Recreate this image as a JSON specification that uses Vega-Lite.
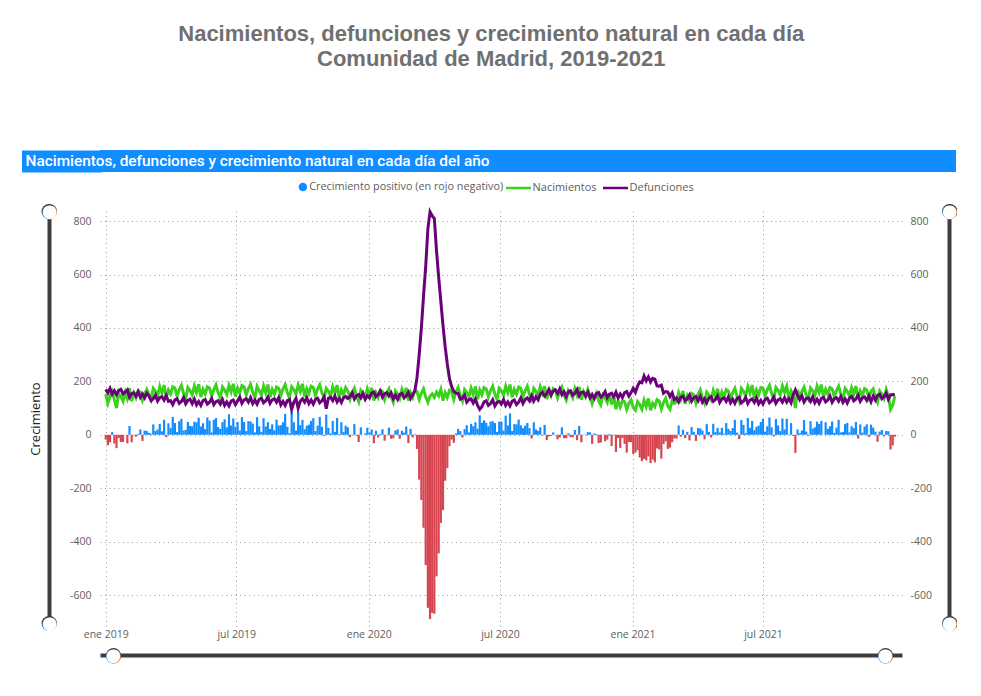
{
"$schema": "https://vega.github.io/schema/vega-lite/v6.json",
"background": "white",
"padding": {"left": 25, "top": 23, "right": 0, "bottom": 0},
"title": {"text": ["Nacimientos, defunciones y crecimiento natural en cada día", "Comunidad de Madrid, 2019-2021"], "font": "Liberation Sans", "fontSize": 22, "fontWeight": "bold", "color": "#707070", "lineHeight": 25, "anchor": "middle", "offset": 79},
"config": {"view": {"stroke": null}, "axis": {"labelFont": "Open Sans", "labelFontSize": 10.5, "labelColor": "#605E5C"}},
"spacing": 30,
"vconcat": [
{"width": 856, "height": 22, "view": {"fill": "#118DFF", "stroke": null},
 "data": {"values": [{"t": "Nacimientos, defunciones y crecimiento natural en cada día del año", "k": "h"}]},
 "mark": {"type": "text", "align": "left", "baseline": "middle", "font": "Roboto", "fontSize": 15.4, "fontWeight": 500, "color": "white"},
 "encoding": {"text": {"field": "t"}, "x": {"value": -74.5},
   "y": {"field": "k", "type": "nominal", "axis": {"orient": "left", "offset": 38.5, "domain": true, "domainWidth": 80, "domainColor": "#118DFF", "domainCap": "butt", "labels": false, "ticks": false, "grid": false, "title": null}}}},
{"width": 802, "height": 415, "view": {"stroke": null},
 "data": {"values": [
{"d":"2019-01-01","n":152,"m":170,"c":-18},{"d":"2019-01-04","n":118,"m":157,"c":-39},{"d":"2019-01-07","n":146,"m":174,"c":-28},{"d":"2019-01-10","n":162,"m":152,"c":10},{"d":"2019-01-13","n":132,"m":165,"c":-33},{"d":"2019-01-16","n":100,"m":150,"c":-50},{"d":"2019-01-19","n":154,"m":166,"c":-12},{"d":"2019-01-22","n":143,"m":170,"c":-27},{"d":"2019-01-25","n":126,"m":153,"c":-27},{"d":"2019-01-28","n":160,"m":160,"c":0},{"d":"2019-01-31","n":136,"m":168,"c":-32},
{"d":"2019-02-03","n":174,"m":141,"c":33},{"d":"2019-02-06","n":126,"m":154,"c":-28},{"d":"2019-02-09","n":156,"m":158,"c":-2},{"d":"2019-02-12","n":138,"m":145,"c":-7},{"d":"2019-02-15","n":165,"m":162,"c":3},{"d":"2019-02-18","n":160,"m":140,"c":20},{"d":"2019-02-21","n":130,"m":153,"c":-23},{"d":"2019-02-24","n":154,"m":138,"c":16},{"d":"2019-02-27","n":170,"m":156,"c":14},
{"d":"2019-03-02","n":152,"m":145,"c":7},{"d":"2019-03-05","n":132,"m":128,"c":4},{"d":"2019-03-08","n":174,"m":135,"c":39},{"d":"2019-03-11","n":163,"m":149,"c":14},{"d":"2019-03-14","n":146,"m":126,"c":20},{"d":"2019-03-17","n":180,"m":139,"c":41},{"d":"2019-03-20","n":156,"m":143,"c":13},{"d":"2019-03-23","n":186,"m":130,"c":56},{"d":"2019-03-26","n":138,"m":147,"c":-9},{"d":"2019-03-29","n":168,"m":125,"c":43},
{"d":"2019-04-01","n":153,"m":128,"c":25},{"d":"2019-04-04","n":180,"m":113,"c":67},{"d":"2019-04-07","n":175,"m":131,"c":44},{"d":"2019-04-10","n":145,"m":135,"c":10},{"d":"2019-04-13","n":169,"m":118,"c":51},{"d":"2019-04-16","n":185,"m":125,"c":60},{"d":"2019-04-19","n":155,"m":139,"c":16},{"d":"2019-04-22","n":135,"m":116,"c":19},{"d":"2019-04-25","n":177,"m":129,"c":48},{"d":"2019-04-28","n":166,"m":133,"c":33},
{"d":"2019-05-01","n":149,"m":117,"c":32},{"d":"2019-05-04","n":183,"m":134,"c":49},{"d":"2019-05-07","n":159,"m":112,"c":47},{"d":"2019-05-10","n":189,"m":125,"c":64},{"d":"2019-05-13","n":141,"m":110,"c":31},{"d":"2019-05-16","n":171,"m":128,"c":43},{"d":"2019-05-19","n":153,"m":132,"c":21},{"d":"2019-05-22","n":180,"m":115,"c":65},{"d":"2019-05-25","n":175,"m":122,"c":53},{"d":"2019-05-28","n":145,"m":136,"c":9},{"d":"2019-05-31","n":169,"m":113,"c":56},
{"d":"2019-06-03","n":187,"m":124,"c":63},{"d":"2019-06-06","n":157,"m":128,"c":29},{"d":"2019-06-09","n":137,"m":115,"c":22},{"d":"2019-06-12","n":179,"m":132,"c":47},{"d":"2019-06-15","n":168,"m":110,"c":58},{"d":"2019-06-18","n":151,"m":123,"c":28},{"d":"2019-06-21","n":185,"m":108,"c":77},{"d":"2019-06-24","n":161,"m":126,"c":35},{"d":"2019-06-27","n":191,"m":130,"c":61},{"d":"2019-06-30","n":143,"m":113,"c":30},
{"d":"2019-07-03","n":175,"m":127,"c":48},{"d":"2019-07-06","n":157,"m":141,"c":16},{"d":"2019-07-09","n":184,"m":118,"c":66},{"d":"2019-07-12","n":179,"m":131,"c":48},{"d":"2019-07-15","n":149,"m":135,"c":14},{"d":"2019-07-18","n":173,"m":122,"c":51},{"d":"2019-07-21","n":189,"m":139,"c":50},{"d":"2019-07-24","n":159,"m":117,"c":42},{"d":"2019-07-27","n":139,"m":130,"c":9},{"d":"2019-07-30","n":181,"m":115,"c":66},
{"d":"2019-08-02","n":165,"m":133,"c":32},{"d":"2019-08-05","n":148,"m":137,"c":11},{"d":"2019-08-08","n":182,"m":120,"c":62},{"d":"2019-08-11","n":158,"m":127,"c":31},{"d":"2019-08-14","n":188,"m":141,"c":47},{"d":"2019-08-17","n":140,"m":118,"c":22},{"d":"2019-08-20","n":170,"m":131,"c":39},{"d":"2019-08-23","n":152,"m":135,"c":17},{"d":"2019-08-26","n":179,"m":122,"c":57},{"d":"2019-08-29","n":174,"m":139,"c":35},
{"d":"2019-09-01","n":148,"m":112,"c":36},{"d":"2019-09-04","n":172,"m":125,"c":47},{"d":"2019-09-07","n":188,"m":110,"c":78},{"d":"2019-09-10","n":158,"m":128,"c":30},{"d":"2019-09-13","n":138,"m":132,"c":6},{"d":"2019-09-16","n":180,"m":95,"c":85},{"d":"2019-09-19","n":169,"m":122,"c":47},{"d":"2019-09-22","n":152,"m":136,"c":16},{"d":"2019-09-25","n":186,"m":100,"c":86},{"d":"2019-09-28","n":162,"m":126,"c":36},
{"d":"2019-10-01","n":191,"m":135,"c":56},{"d":"2019-10-04","n":143,"m":122,"c":21},{"d":"2019-10-07","n":173,"m":139,"c":34},{"d":"2019-10-10","n":155,"m":117,"c":38},{"d":"2019-10-13","n":182,"m":130,"c":52},{"d":"2019-10-16","n":177,"m":115,"c":62},{"d":"2019-10-19","n":147,"m":133,"c":14},{"d":"2019-10-22","n":171,"m":137,"c":34},{"d":"2019-10-25","n":187,"m":120,"c":67},{"d":"2019-10-28","n":157,"m":127,"c":30},{"d":"2019-10-31","n":137,"m":141,"c":-4},
{"d":"2019-11-03","n":174,"m":98,"c":76},{"d":"2019-11-06","n":163,"m":137,"c":26},{"d":"2019-11-09","n":146,"m":141,"c":5},{"d":"2019-11-12","n":180,"m":128,"c":52},{"d":"2019-11-15","n":156,"m":145,"c":11},{"d":"2019-11-18","n":186,"m":123,"c":63},{"d":"2019-11-21","n":138,"m":136,"c":2},{"d":"2019-11-24","n":168,"m":121,"c":47},{"d":"2019-11-27","n":150,"m":139,"c":11},{"d":"2019-11-30","n":177,"m":143,"c":34},
{"d":"2019-12-03","n":164,"m":136,"c":28},{"d":"2019-12-06","n":134,"m":143,"c":-9},{"d":"2019-12-09","n":158,"m":157,"c":1},{"d":"2019-12-12","n":174,"m":134,"c":40},{"d":"2019-12-15","n":144,"m":147,"c":-3},{"d":"2019-12-18","n":124,"m":151,"c":-27},{"d":"2019-12-21","n":166,"m":138,"c":28},{"d":"2019-12-24","n":155,"m":155,"c":0},{"d":"2019-12-27","n":138,"m":133,"c":5},{"d":"2019-12-30","n":172,"m":146,"c":26},
{"d":"2020-01-02","n":146,"m":138,"c":8},{"d":"2020-01-05","n":176,"m":156,"c":20},{"d":"2020-01-08","n":128,"m":160,"c":-32},{"d":"2020-01-11","n":158,"m":143,"c":15},{"d":"2020-01-14","n":140,"m":150,"c":-10},{"d":"2020-01-17","n":167,"m":164,"c":3},{"d":"2020-01-20","n":162,"m":141,"c":21},{"d":"2020-01-23","n":132,"m":154,"c":-22},{"d":"2020-01-26","n":156,"m":158,"c":-2},{"d":"2020-01-29","n":172,"m":145,"c":27},
{"d":"2020-02-01","n":142,"m":157,"c":-15},{"d":"2020-02-04","n":122,"m":135,"c":-13},{"d":"2020-02-07","n":164,"m":148,"c":16},{"d":"2020-02-10","n":153,"m":133,"c":20},{"d":"2020-02-13","n":136,"m":151,"c":-15},{"d":"2020-02-16","n":170,"m":155,"c":15},{"d":"2020-02-19","n":146,"m":138,"c":8},{"d":"2020-02-22","n":176,"m":145,"c":31},{"d":"2020-02-25","n":128,"m":159,"c":-31},{"d":"2020-02-28","n":158,"m":136,"c":22},
{"d":"2020-03-02","n":140,"m":150,"c":-10},{"d":"2020-03-05","n":167,"m":165,"c":2},{"d":"2020-03-08","n":162,"m":215,"c":-53},{"d":"2020-03-11","n":132,"m":300,"c":-168},{"d":"2020-03-14","n":156,"m":400,"c":-244},{"d":"2020-03-17","n":172,"m":520,"c":-348},{"d":"2020-03-20","n":142,"m":630,"c":-488},{"d":"2020-03-23","n":122,"m":770,"c":-648},{"d":"2020-03-26","n":145,"m":835,"c":-690},{"d":"2020-03-29","n":153,"m":820,"c":-667},
{"d":"2020-04-01","n":140,"m":810,"c":-670},{"d":"2020-04-04","n":160,"m":690,"c":-530},{"d":"2020-04-07","n":146,"m":590,"c":-444},{"d":"2020-04-10","n":170,"m":500,"c":-330},{"d":"2020-04-13","n":128,"m":410,"c":-282},{"d":"2020-04-16","n":158,"m":330,"c":-172},{"d":"2020-04-19","n":140,"m":265,"c":-125},{"d":"2020-04-22","n":167,"m":210,"c":-43},{"d":"2020-04-25","n":162,"m":180,"c":-18},{"d":"2020-04-28","n":132,"m":162,"c":-30},
{"d":"2020-05-01","n":161,"m":156,"c":5},{"d":"2020-05-04","n":177,"m":155,"c":22},{"d":"2020-05-07","n":147,"m":133,"c":14},{"d":"2020-05-10","n":127,"m":137,"c":-10},{"d":"2020-05-13","n":169,"m":148,"c":21},{"d":"2020-05-16","n":158,"m":122,"c":36},{"d":"2020-05-19","n":141,"m":132,"c":9},{"d":"2020-05-22","n":175,"m":134,"c":41},{"d":"2020-05-25","n":151,"m":119,"c":32},{"d":"2020-05-28","n":181,"m":134,"c":47},{"d":"2020-05-31","n":133,"m":110,"c":23},
{"d":"2020-06-03","n":168,"m":95,"c":73},{"d":"2020-06-06","n":150,"m":105,"c":45},{"d":"2020-06-09","n":177,"m":123,"c":54},{"d":"2020-06-12","n":172,"m":127,"c":45},{"d":"2020-06-15","n":142,"m":110,"c":32},{"d":"2020-06-18","n":166,"m":117,"c":49},{"d":"2020-06-21","n":182,"m":131,"c":51},{"d":"2020-06-24","n":152,"m":108,"c":44},{"d":"2020-06-27","n":132,"m":121,"c":11},{"d":"2020-06-30","n":174,"m":125,"c":49},
{"d":"2020-07-03","n":165,"m":115,"c":50},{"d":"2020-07-06","n":148,"m":132,"c":16},{"d":"2020-07-09","n":182,"m":110,"c":72},{"d":"2020-07-12","n":158,"m":123,"c":35},{"d":"2020-07-15","n":188,"m":108,"c":80},{"d":"2020-07-18","n":140,"m":126,"c":14},{"d":"2020-07-21","n":170,"m":130,"c":40},{"d":"2020-07-24","n":152,"m":113,"c":39},{"d":"2020-07-27","n":179,"m":122,"c":57},{"d":"2020-07-30","n":174,"m":138,"c":36},
{"d":"2020-08-02","n":142,"m":117,"c":25},{"d":"2020-08-05","n":166,"m":132,"c":34},{"d":"2020-08-08","n":182,"m":138,"c":44},{"d":"2020-08-11","n":152,"m":127,"c":25},{"d":"2020-08-14","n":132,"m":146,"c":-14},{"d":"2020-08-17","n":174,"m":127,"c":47},{"d":"2020-08-20","n":163,"m":143,"c":20},{"d":"2020-08-23","n":146,"m":131,"c":15},{"d":"2020-08-26","n":180,"m":152,"c":28},{"d":"2020-08-29","n":156,"m":159,"c":-3},
{"d":"2020-09-01","n":182,"m":145,"c":37},{"d":"2020-09-04","n":134,"m":154,"c":-20},{"d":"2020-09-07","n":164,"m":170,"c":-6},{"d":"2020-09-10","n":146,"m":149,"c":-3},{"d":"2020-09-13","n":173,"m":164,"c":9},{"d":"2020-09-16","n":168,"m":168,"c":0},{"d":"2020-09-19","n":138,"m":155,"c":-17},{"d":"2020-09-22","n":162,"m":172,"c":-10},{"d":"2020-09-25","n":178,"m":150,"c":28},{"d":"2020-09-28","n":148,"m":161,"c":-13},
{"d":"2020-10-01","n":130,"m":143,"c":-13},{"d":"2020-10-04","n":167,"m":161,"c":6},{"d":"2020-10-07","n":156,"m":165,"c":-9},{"d":"2020-10-10","n":139,"m":148,"c":-9},{"d":"2020-10-13","n":173,"m":155,"c":18},{"d":"2020-10-16","n":149,"m":169,"c":-20},{"d":"2020-10-19","n":179,"m":146,"c":33},{"d":"2020-10-22","n":131,"m":159,"c":-28},{"d":"2020-10-25","n":161,"m":160,"c":1},{"d":"2020-10-28","n":143,"m":145,"c":-2},{"d":"2020-10-31","n":170,"m":160,"c":10},
{"d":"2020-11-03","n":147,"m":138,"c":9},{"d":"2020-11-06","n":117,"m":151,"c":-34},{"d":"2020-11-09","n":141,"m":136,"c":5},{"d":"2020-11-12","n":157,"m":154,"c":3},{"d":"2020-11-15","n":127,"m":158,"c":-31},{"d":"2020-11-18","n":112,"m":141,"c":-29},{"d":"2020-11-21","n":149,"m":148,"c":1},{"d":"2020-11-24","n":138,"m":162,"c":-24},{"d":"2020-11-27","n":121,"m":139,"c":-18},{"d":"2020-11-30","n":155,"m":152,"c":3},
{"d":"2020-12-03","n":114,"m":156,"c":-42},{"d":"2020-12-06","n":144,"m":143,"c":1},{"d":"2020-12-09","n":96,"m":160,"c":-64},{"d":"2020-12-12","n":126,"m":138,"c":-12},{"d":"2020-12-15","n":104,"m":153,"c":-49},{"d":"2020-12-18","n":128,"m":140,"c":-12},{"d":"2020-12-21","n":124,"m":158,"c":-34},{"d":"2020-12-24","n":95,"m":162,"c":-67},{"d":"2020-12-27","n":118,"m":145,"c":-27},{"d":"2020-12-30","n":130,"m":158,"c":-28},
{"d":"2021-01-02","n":102,"m":174,"c":-72},{"d":"2021-01-05","n":92,"m":159,"c":-67},{"d":"2021-01-08","n":124,"m":182,"c":-58},{"d":"2021-01-11","n":113,"m":198,"c":-85},{"d":"2021-01-14","n":96,"m":195,"c":-99},{"d":"2021-01-17","n":130,"m":220,"c":-90},{"d":"2021-01-20","n":106,"m":202,"c":-96},{"d":"2021-01-23","n":136,"m":217,"c":-81},{"d":"2021-01-26","n":92,"m":198,"c":-106},{"d":"2021-01-29","n":118,"m":211,"c":-93},
{"d":"2021-02-01","n":105,"m":208,"c":-103},{"d":"2021-02-04","n":132,"m":183,"c":-51},{"d":"2021-02-07","n":127,"m":182,"c":-55},{"d":"2021-02-10","n":97,"m":186,"c":-89},{"d":"2021-02-13","n":121,"m":156,"c":-35},{"d":"2021-02-16","n":137,"m":162,"c":-25},{"d":"2021-02-19","n":107,"m":160,"c":-53},{"d":"2021-02-22","n":95,"m":143,"c":-48},{"d":"2021-02-25","n":129,"m":157,"c":-28},{"d":"2021-02-28","n":118,"m":132,"c":-14},
{"d":"2021-03-03","n":124,"m":138,"c":-14},{"d":"2021-03-06","n":158,"m":123,"c":35},{"d":"2021-03-09","n":134,"m":141,"c":-7},{"d":"2021-03-12","n":164,"m":145,"c":19},{"d":"2021-03-15","n":116,"m":128,"c":-12},{"d":"2021-03-18","n":146,"m":135,"c":11},{"d":"2021-03-21","n":128,"m":149,"c":-21},{"d":"2021-03-24","n":155,"m":126,"c":29},{"d":"2021-03-27","n":150,"m":139,"c":11},{"d":"2021-03-30","n":120,"m":143,"c":-23},
{"d":"2021-04-02","n":152,"m":127,"c":25},{"d":"2021-04-05","n":168,"m":144,"c":24},{"d":"2021-04-08","n":138,"m":122,"c":16},{"d":"2021-04-11","n":118,"m":135,"c":-17},{"d":"2021-04-14","n":160,"m":120,"c":40},{"d":"2021-04-17","n":149,"m":138,"c":11},{"d":"2021-04-20","n":132,"m":142,"c":-10},{"d":"2021-04-23","n":166,"m":125,"c":41},{"d":"2021-04-26","n":142,"m":132,"c":10},{"d":"2021-04-29","n":172,"m":146,"c":26},
{"d":"2021-05-02","n":130,"m":121,"c":9},{"d":"2021-05-05","n":160,"m":134,"c":26},{"d":"2021-05-08","n":142,"m":138,"c":4},{"d":"2021-05-11","n":169,"m":125,"c":44},{"d":"2021-05-14","n":164,"m":142,"c":22},{"d":"2021-05-17","n":134,"m":120,"c":14},{"d":"2021-05-20","n":158,"m":133,"c":25},{"d":"2021-05-23","n":174,"m":118,"c":56},{"d":"2021-05-26","n":144,"m":136,"c":8},{"d":"2021-05-29","n":124,"m":140,"c":-16},
{"d":"2021-06-01","n":174,"m":119,"c":55},{"d":"2021-06-04","n":163,"m":126,"c":37},{"d":"2021-06-07","n":146,"m":140,"c":6},{"d":"2021-06-10","n":180,"m":117,"c":63},{"d":"2021-06-13","n":156,"m":130,"c":26},{"d":"2021-06-16","n":186,"m":134,"c":52},{"d":"2021-06-19","n":138,"m":121,"c":17},{"d":"2021-06-22","n":168,"m":138,"c":30},{"d":"2021-06-25","n":150,"m":116,"c":34},{"d":"2021-06-28","n":177,"m":129,"c":48},
{"d":"2021-07-01","n":175,"m":115,"c":60},{"d":"2021-07-04","n":145,"m":133,"c":12},{"d":"2021-07-07","n":169,"m":137,"c":32},{"d":"2021-07-10","n":185,"m":120,"c":65},{"d":"2021-07-13","n":155,"m":127,"c":28},{"d":"2021-07-16","n":135,"m":141,"c":-6},{"d":"2021-07-19","n":177,"m":118,"c":59},{"d":"2021-07-22","n":166,"m":131,"c":35},{"d":"2021-07-25","n":149,"m":135,"c":14},{"d":"2021-07-28","n":183,"m":122,"c":61},{"d":"2021-07-31","n":159,"m":139,"c":20},
{"d":"2021-08-03","n":182,"m":122,"c":60},{"d":"2021-08-06","n":134,"m":135,"c":-1},{"d":"2021-08-09","n":164,"m":120,"c":44},{"d":"2021-08-12","n":146,"m":150,"c":-4},{"d":"2021-08-15","n":100,"m":168,"c":-68},{"d":"2021-08-18","n":168,"m":148,"c":20},{"d":"2021-08-21","n":138,"m":132,"c":6},{"d":"2021-08-24","n":162,"m":146,"c":16},{"d":"2021-08-27","n":178,"m":123,"c":55},{"d":"2021-08-30","n":148,"m":136,"c":12},
{"d":"2021-09-02","n":134,"m":138,"c":-4},{"d":"2021-09-05","n":176,"m":125,"c":51},{"d":"2021-09-08","n":165,"m":142,"c":23},{"d":"2021-09-11","n":148,"m":120,"c":28},{"d":"2021-09-14","n":182,"m":133,"c":49},{"d":"2021-09-17","n":158,"m":118,"c":40},{"d":"2021-09-20","n":188,"m":136,"c":52},{"d":"2021-09-23","n":140,"m":140,"c":0},{"d":"2021-09-26","n":170,"m":123,"c":47},{"d":"2021-09-29","n":152,"m":130,"c":22},
{"d":"2021-10-02","n":177,"m":145,"c":32},{"d":"2021-10-05","n":172,"m":122,"c":50},{"d":"2021-10-08","n":142,"m":135,"c":7},{"d":"2021-10-11","n":166,"m":139,"c":27},{"d":"2021-10-14","n":182,"m":126,"c":56},{"d":"2021-10-17","n":152,"m":143,"c":9},{"d":"2021-10-20","n":132,"m":121,"c":11},{"d":"2021-10-23","n":174,"m":134,"c":40},{"d":"2021-10-26","n":163,"m":119,"c":44},{"d":"2021-10-29","n":146,"m":137,"c":9},
{"d":"2021-11-01","n":176,"m":144,"c":32},{"d":"2021-11-04","n":152,"m":127,"c":25},{"d":"2021-11-07","n":182,"m":134,"c":48},{"d":"2021-11-10","n":134,"m":148,"c":-14},{"d":"2021-11-13","n":164,"m":125,"c":39},{"d":"2021-11-16","n":146,"m":138,"c":8},{"d":"2021-11-19","n":173,"m":142,"c":31},{"d":"2021-11-22","n":168,"m":129,"c":39},{"d":"2021-11-25","n":138,"m":146,"c":-8},{"d":"2021-11-28","n":162,"m":124,"c":38},
{"d":"2021-12-01","n":172,"m":145,"c":27},{"d":"2021-12-04","n":142,"m":130,"c":12},{"d":"2021-12-07","n":122,"m":148,"c":-26},{"d":"2021-12-10","n":164,"m":152,"c":12},{"d":"2021-12-13","n":153,"m":135,"c":18},{"d":"2021-12-16","n":136,"m":142,"c":-6},{"d":"2021-12-19","n":170,"m":156,"c":14},{"d":"2021-12-22","n":146,"m":133,"c":13},{"d":"2021-12-25","n":95,"m":150,"c":-55},{"d":"2021-12-28","n":110,"m":150,"c":-40},{"d":"2021-12-31","n":145,"m":152,"c":-7}
 ]},
 "resolve": {"axis": {"x": "independent", "y": "independent"}},
 "layer": [
  {"transform": [{"filter": "datum.c >= 0 && utcyear(datum.d) <= 2020"}],
   "mark": {"type": "bar", "size": 2.2},
   "encoding": {
    "x": {"field": "d", "type": "temporal",
      "scale": {"type": "utc", "nice": false, "domain": [{"year": 2018, "month": 12, "date": 31, "utc": true}, {"year": 2022, "month": 1, "date": 3, "utc": true}]},
      "axis": {"orient": "bottom", "title": null, "values": [{"year": 2019, "month": 1, "date": 1, "utc": true}, {"year": 2019, "month": 7, "date": 1, "utc": true}, {"year": 2020, "month": 1, "date": 1, "utc": true}, {"year": 2020, "month": 7, "date": 1, "utc": true}, {"year": 2021, "month": 1, "date": 1, "utc": true}, {"year": 2021, "month": 7, "date": 1, "utc": true}],
        "labelExpr": "(utcmonth(datum.value) == 0 ? 'ene ' : 'jul ') + utcyear(datum.value)",
        "labelFlush": false, "labelOverlap": false, "grid": true, "gridDash": [1, 3.5], "gridColor": "#9a9a9a", "gridWidth": 1, "ticks": false, "domain": false, "labelPadding": 3}},
    "y": {"field": "c", "type": "quantitative",
      "scale": {"domain": [-716, 838], "nice": false, "zero": false},
      "axis": {"orient": "left", "title": null, "values": [-600, -400, -200, 0, 200, 400, 600, 800], "labelExpr": "'' + datum.value", "grid": true, "gridDash": [1, 3.5], "gridColor": "#9a9a9a", "gridWidth": 1, "ticks": false, "domain": false, "labelPadding": 9}},
    "fill": {"datum": "Crecimiento positivo (en rojo negativo)", "type": "nominal",
      "scale": {"domain": ["Crecimiento positivo (en rojo negativo)"], "range": ["#118DFF"]},
      "legend": {"orient": "none", "legendX": 197.5, "legendY": 31.5, "direction": "horizontal", "title": null,
        "symbolType": "circle", "symbolSize": 72, "labelFont": "Open Sans", "labelFontSize": 10.8, "labelColor": "#605E5C", "labelOffset": 1, "labelLimit": 400}}
   }},
  {"transform": [{"filter": "datum.c >= 0 && utcyear(datum.d) >= 2021"}],
   "mark": {"type": "bar", "size": 2.2},
   "encoding": {
    "x": {"field": "d", "type": "temporal",
      "scale": {"type": "utc", "nice": false, "domain": [{"year": 2018, "month": 12, "date": 31, "utc": true}, {"year": 2022, "month": 1, "date": 3, "utc": true}]},
      "axis": {"orient": "bottom", "offset": 29, "title": null, "labels": false, "ticks": false, "grid": false, "domain": true, "domainWidth": 4, "domainColor": "#3E3E3E", "zindex": 1}},
    "y": {"field": "c", "type": "quantitative",
      "scale": {"domain": [-716, 838], "nice": false, "zero": false},
      "axis": {"orient": "right", "title": null, "values": [-600, -400, -200, 0, 200, 400, 600, 800], "labelExpr": "'' + datum.value", "grid": false, "ticks": false, "domain": false, "labelPadding": 8}},
    "fill": {"datum": "Crecimiento positivo (en rojo negativo)", "type": "nominal",
      "scale": {"domain": ["Crecimiento positivo (en rojo negativo)"], "range": ["#118DFF"]},
      "legend": {"orient": "none", "legendX": 197.5, "legendY": 31.5, "direction": "horizontal", "title": null,
        "symbolType": "circle", "symbolSize": 72, "labelFont": "Open Sans", "labelFontSize": 10.8, "labelColor": "#605E5C", "labelOffset": 1, "labelLimit": 400}}
   }},
  {"transform": [{"filter": "datum.c < 0 && utcyear(datum.d) <= 2020"}],
   "mark": {"type": "bar", "size": 2.2, "color": "#D64550"},
   "encoding": {
    "x": {"field": "d", "type": "temporal",
      "scale": {"type": "utc", "nice": false, "domain": [{"year": 2018, "month": 12, "date": 31, "utc": true}, {"year": 2022, "month": 1, "date": 3, "utc": true}]},
      "axis": {"orient": "bottom", "offset": 29, "title": null, "grid": false, "domain": false, "zindex": 2,
        "values": [{"year": 2019, "month": 1, "date": 11, "utc": true}, {"year": 2021, "month": 12, "date": 17, "utc": true}],
        "ticks": true, "tickSize": 0.5, "tickWidth": 15, "tickCap": "round", "tickColor": "#3E3E3E",
        "labels": true, "labelExpr": "'●'", "labelFont": "DejaVu Sans", "labelFontSize": 18, "labelColor": "white", "labelAlign": "center", "labelBaseline": "middle", "labelPadding": -0.5, "labelFlush": false, "labelOverlap": false}},
    "y": {"field": "c", "type": "quantitative",
      "scale": {"domain": [-716, 838], "nice": false, "zero": false},
      "axis": {"orient": "left", "offset": 51, "title": "Crecimiento", "titleFont": "Open Sans", "titleFontSize": 13, "titleFontWeight": "normal", "titleColor": "#252423", "titlePadding": 7,
        "labels": false, "ticks": false, "grid": false, "domain": true, "domainWidth": 4, "domainColor": "#3E3E3E", "zindex": 1}}
   }},
  {"transform": [{"filter": "datum.c < 0 && utcyear(datum.d) >= 2021"}],
   "mark": {"type": "bar", "size": 2.2, "color": "#D64550"},
   "encoding": {
    "x": {"field": "d", "type": "temporal",
      "scale": {"type": "utc", "nice": false, "domain": [{"year": 2018, "month": 12, "date": 31, "utc": true}, {"year": 2022, "month": 1, "date": 3, "utc": true}]},
      "axis": null},
    "y": {"field": "c", "type": "quantitative",
      "scale": {"domain": [-716, 838], "nice": false, "zero": false},
      "axis": {"orient": "left", "offset": 51, "title": null, "grid": false, "domain": false, "zindex": 2,
        "values": [-705, 838],
        "ticks": true, "tickSize": 0.5, "tickWidth": 15, "tickCap": "round", "tickColor": "#3E3E3E",
        "labels": true, "labelExpr": "'●'", "labelFont": "DejaVu Sans", "labelFontSize": 18, "labelColor": "white", "labelAlign": "center", "labelBaseline": "middle", "labelPadding": -0.5, "labelFlush": false, "labelOverlap": false}}
   }},
  {"mark": {"type": "line", "strokeWidth": 3},
   "encoding": {
    "x": {"field": "d", "type": "temporal",
      "scale": {"type": "utc", "nice": false, "domain": [{"year": 2018, "month": 12, "date": 31, "utc": true}, {"year": 2022, "month": 1, "date": 3, "utc": true}]},
      "axis": null},
    "y": {"field": "n", "type": "quantitative",
      "scale": {"domain": [-716, 838], "nice": false, "zero": false},
      "axis": {"orient": "right", "offset": 47, "title": null, "labels": false, "ticks": false, "grid": false, "domain": true, "domainWidth": 4, "domainColor": "#3E3E3E", "zindex": 1}},
    "stroke": {"datum": "Nacimientos", "type": "nominal",
      "scale": {"domain": ["Nacimientos", "Defunciones"], "range": ["#3BD21E", "#6B007B"]},
      "legend": {"orient": "none", "legendX": 404.5, "legendY": 24, "direction": "horizontal", "title": null,
        "symbolType": "stroke", "symbolSize": 625, "symbolStrokeWidth": 2.5, "labelFont": "Open Sans", "labelFontSize": 11, "labelColor": "#605E5C", "labelOffset": 0, "columnPadding": 0}}
   }},
  {"mark": {"type": "line", "strokeWidth": 3},
   "encoding": {
    "x": {"field": "d", "type": "temporal",
      "scale": {"type": "utc", "nice": false, "domain": [{"year": 2018, "month": 12, "date": 31, "utc": true}, {"year": 2022, "month": 1, "date": 3, "utc": true}]},
      "axis": null},
    "y": {"field": "m", "type": "quantitative",
      "scale": {"domain": [-716, 838], "nice": false, "zero": false},
      "axis": {"orient": "right", "offset": 47, "title": null, "grid": false, "domain": false, "zindex": 2,
        "values": [-705, 838],
        "ticks": true, "tickSize": 0.5, "tickWidth": 15, "tickCap": "round", "tickColor": "#3E3E3E",
        "labels": true, "labelExpr": "'●'", "labelFont": "DejaVu Sans", "labelFontSize": 18, "labelColor": "white", "labelAlign": "center", "labelBaseline": "middle", "labelPadding": -0.5, "labelFlush": false, "labelOverlap": false}},
    "stroke": {"datum": "Defunciones", "type": "nominal",
      "scale": {"domain": ["Nacimientos", "Defunciones"], "range": ["#3BD21E", "#6B007B"]},
      "legend": {"orient": "none", "legendX": 404.5, "legendY": 24, "direction": "horizontal", "title": null,
        "symbolType": "stroke", "symbolSize": 625, "symbolStrokeWidth": 2.5, "labelFont": "Open Sans", "labelFontSize": 11, "labelColor": "#605E5C", "labelOffset": 0, "columnPadding": 0}}
   }}
 ]}
]
}
